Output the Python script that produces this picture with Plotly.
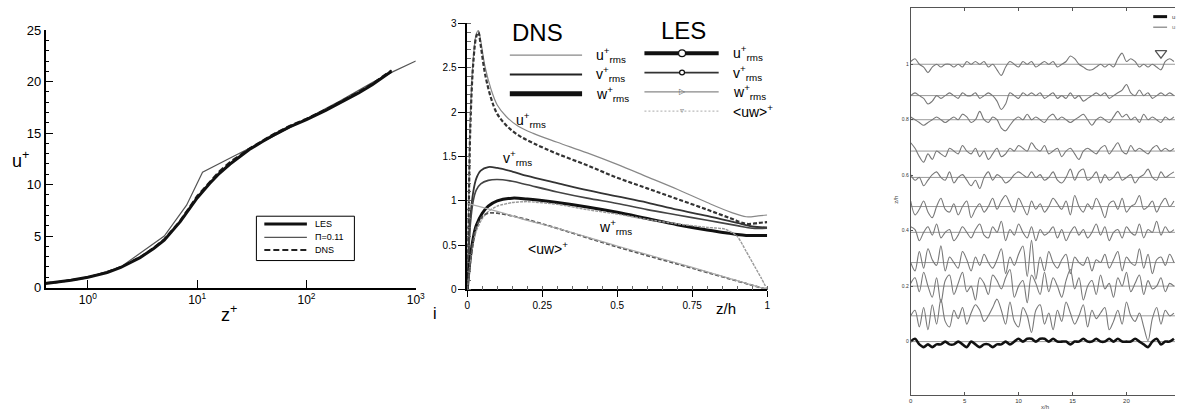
import plotly.graph_objects as go

W, H = 1184, 418

# ---------------- Panel 1 data: mean velocity profile ----------------
les_zp = [0.41, 0.5, 0.7, 1, 1.5, 2, 3, 4, 5, 7, 10, 13, 16, 20, 25, 30, 40, 50, 70, 100, 150, 200, 300, 400, 500, 600]
les_up = [0.4, 0.5, 0.7, 1.0, 1.45, 1.95, 2.9, 3.8, 4.6, 6.4, 8.7, 10.1, 11.1, 12.0, 12.8, 13.4, 14.2, 14.8, 15.6, 16.3, 17.2, 17.9, 18.9, 19.7, 20.4, 21.0]
dns_zp = [0.41, 0.5, 0.7, 1, 1.5, 2, 3, 4, 5, 7, 10, 13, 16, 20, 25, 30, 40, 50, 70, 100, 150, 200, 300, 400, 500, 600]
dns_up = [0.45, 0.5, 0.7, 1.0, 1.5, 2.0, 2.95, 3.85, 4.7, 6.5, 8.9, 10.3, 11.3, 12.2, 12.9, 13.5, 14.3, 14.9, 15.7, 16.4, 17.3, 18.0, 19.0, 19.8, 20.5, 21.1]
pi_zp = [0.41, 1, 2, 5, 8, 11.2, 22, 30, 50, 100, 200, 400, 600, 1000]
pi_up = [0.41, 1.0, 2.0, 5.0, 8.0, 11.2, 12.8, 13.5, 14.7, 16.4, 18.1, 19.9, 20.9, 22.0]

# ---------------- Panel 2 data: rms profiles ----------------
u_z = [0, 0.005, 0.01, 0.02, 0.03, 0.037, 0.045, 0.06, 0.08, 0.1, 0.13, 0.17, 0.22, 0.3, 0.4, 0.5, 0.6, 0.7, 0.8, 0.88, 0.93, 0.97, 1.0]
dns_u = [0, 1.0, 1.9, 2.6, 2.88, 2.92, 2.8, 2.5, 2.25, 2.08, 1.95, 1.84, 1.76, 1.66, 1.54, 1.41, 1.27, 1.13, 0.98, 0.87, 0.82, 0.83, 0.84]
les_u = [0, 0.9, 1.8, 2.55, 2.85, 2.9, 2.75, 2.42, 2.15, 1.98, 1.85, 1.74, 1.65, 1.53, 1.40, 1.26, 1.14, 1.02, 0.90, 0.80, 0.74, 0.75, 0.76]
v_z = [0, 0.005, 0.01, 0.02, 0.03, 0.045, 0.07, 0.1, 0.15, 0.2, 0.3, 0.4, 0.5, 0.6, 0.7, 0.8, 0.9, 0.95, 1.0]
dns_v = [0, 0.45, 0.8, 1.1, 1.25, 1.34, 1.38, 1.37, 1.33, 1.28, 1.20, 1.12, 1.05, 0.98, 0.90, 0.83, 0.75, 0.71, 0.70]
les_v = [0, 0.4, 0.72, 1.0, 1.12, 1.19, 1.23, 1.24, 1.22, 1.18, 1.10, 1.03, 0.97, 0.90, 0.84, 0.78, 0.72, 0.69, 0.69]
w_z = [0, 0.01, 0.02, 0.03, 0.05, 0.07, 0.1, 0.15, 0.2, 0.3, 0.4, 0.5, 0.6, 0.7, 0.8, 0.86, 0.9, 0.93, 0.96, 0.98, 1.0]
dns_w = [0, 0.35, 0.58, 0.72, 0.86, 0.94, 1.0, 1.03, 1.02, 0.98, 0.93, 0.87, 0.80, 0.73, 0.67, 0.64, 0.62, 0.61, 0.61, 0.61, 0.61]
les_w = [0, 0.3, 0.52, 0.66, 0.80, 0.88, 0.94, 0.98, 0.99, 0.96, 0.90, 0.85, 0.79, 0.74, 0.70, 0.68, 0.60, 0.43, 0.25, 0.13, 0.0]
dns_uw_z = [0, 0.01, 0.02, 0.03, 0.05, 0.07, 0.1, 0.15, 0.25, 0.5, 0.75, 1.0]
dns_uw = [0, 0.3, 0.55, 0.7, 0.82, 0.86, 0.86, 0.83, 0.74, 0.48, 0.24, 0]
les_uw_z = [0, 0.1, 0.2, 0.3, 0.5, 0.75, 1.0]
les_uw = [0.97, 0.88, 0.78, 0.69, 0.49, 0.25, 0.0]

# ---------------- Panel 3 data: velocity traces at probe heights ----------------
levels = [1.0, 0.887, 0.80, 0.687, 0.592, 0.487, 0.394, 0.285, 0.20, 0.093, 0.0]
dx = 0.4
s100 = [1,2,0,-1,-3,-1,0,-1,0,0,-1,0,-1,1,0,1,0,1,-1,0,-2,-4,-1,1,0,-1,1,0,1,-1,0,1,0,1,-1,0,1,3,2,0,-1,-2,-2,-1,0,-1,0,-1,2,4,1,2,1,-1,0,-1,0,-1,-2,1,2,1]
s089 = [0,1,0,-1,-3,-2,0,-1,0,1,0,-1,1,0,0,1,-1,0,1,0,-2,-5,-3,1,0,-1,1,0,1,0,1,-1,0,1,-1,0,-1,1,-1,0,-2,-1,0,1,0,1,-1,0,1,2,4,1,0,2,0,1,-1,0,1,0,1,0]
s080 = [1,0,-1,-2,-1,0,1,0,-1,0,1,0,2,1,-1,0,3,0,-1,1,0,-3,-4,-2,0,1,0,2,0,1,0,-1,1,2,0,1,0,-1,0,1,2,0,-2,0,1,0,-1,1,3,1,2,0,1,-1,2,0,1,0,-1,1,0,1]
s069 = [3,1,-2,-4,-1,-3,0,-1,-2,1,0,-1,2,0,-1,1,-2,0,-3,-1,1,-2,-1,1,0,2,1,0,3,1,0,2,-1,0,1,-2,0,1,-1,-3,0,1,0,-1,1,2,-1,1,3,0,-1,2,0,1,0,-1,1,2,0,1,0,1]
s059 = [1,-1,0,-3,-1,1,2,0,-1,2,-2,0,1,-1,-3,-1,-4,0,2,-1,1,0,-2,-1,1,2,1,0,2,0,1,-1,0,2,-1,-2,0,3,-1,2,3,-1,0,2,-2,1,-1,0,2,-1,0,1,-2,0,1,3,0,-1,2,0,1,2]
s049 = [2,-3,-1,2,-2,-4,0,3,-1,-2,1,-3,0,2,-4,-1,1,-2,0,3,-1,2,4,1,-2,3,0,-3,2,-1,1,-2,0,3,1,-1,2,-3,4,0,-2,1,-1,3,0,-4,1,2,-1,3,-2,0,1,4,-1,0,2,-2,1,3,0,2]
s039 = [2,1,-3,0,2,-1,3,-2,0,1,-3,-1,2,0,-2,1,3,-1,-2,2,0,4,-3,1,-1,3,0,-2,2,-3,1,-1,0,2,-2,1,-3,0,2,-1,1,-2,0,3,-1,2,-3,0,1,-2,2,0,-1,3,-2,1,0,4,-1,2,0,1]
s029 = [0,-3,4,-2,5,1,-1,6,-3,2,0,-2,4,1,-3,2,-1,3,0,-2,1,5,-4,2,-1,3,6,-5,8,-6,2,-3,4,0,-2,1,3,-4,2,0,-1,2,-3,1,0,3,-2,1,4,-3,2,0,-1,5,-2,3,-4,1,2,-1,3,0]
s020 = [1,3,-2,5,0,-4,3,-6,2,4,-3,1,5,-2,0,-5,3,1,-3,4,2,-1,3,6,-4,0,2,-6,4,1,-3,5,-2,3,0,-4,2,6,-1,3,-5,0,2,-3,4,-1,1,-4,3,0,5,-2,1,4,-3,2,-1,0,3,-2,1,0]
s009 = [0,2,-4,3,-5,4,-3,6,-2,-4,2,-1,3,-3,1,4,2,-2,0,3,6,2,-3,5,-2,-4,3,0,-6,2,4,-3,1,-5,2,-2,5,1,-3,0,4,-4,2,-1,1,3,-5,-2,2,-3,5,0,-2,1,-4,-9,-1,3,-3,2,0,1]
s000 = [0,1,-1,-2,-1,-2,-1,-1,0,-1,-1,0,-1,-2,0,-1,-2,-1,-1,-2,-1,-1,0,-1,0,1,0,1,1,0,1,1,0,1,0,0,0,-1,0,0,1,0,0,1,0,0,1,0,1,0,0,0,1,0,-1,-2,0,1,-1,0,0,1]
series = [s100, s089, s080, s069, s059, s049, s039, s029, s020, s009, s000]
x_end = 24.5
surf_x, surf_y = [23.2], [1.04]

fig = go.Figure()
FONT = "Liberation Sans, Arial, sans-serif"

# Panel 1 traces
fig.add_trace(go.Scatter(x=pi_zp, y=pi_up, mode="lines", line=dict(color="#555", width=1.2), xaxis="x", yaxis="y"))
fig.add_trace(go.Scatter(x=dns_zp, y=dns_up, mode="lines", line=dict(color="#222", width=2, dash="6px,3px"), xaxis="x", yaxis="y"))
fig.add_trace(go.Scatter(x=les_zp, y=les_up, mode="lines", line=dict(color="#111", width=3), xaxis="x", yaxis="y"))

# Panel 2 traces
fig.add_trace(go.Scatter(x=u_z, y=dns_u, mode="lines", line=dict(color="#888", width=1.2, shape="spline"), xaxis="x2", yaxis="y2"))
fig.add_trace(go.Scatter(x=u_z, y=les_u, mode="lines", line=dict(color="#333", width=2.2, dash="4px,2px", shape="spline"), xaxis="x2", yaxis="y2"))
fig.add_trace(go.Scatter(x=v_z, y=dns_v, mode="lines", line=dict(color="#333", width=1.8, shape="spline"), xaxis="x2", yaxis="y2"))
fig.add_trace(go.Scatter(x=v_z, y=les_v, mode="lines", line=dict(color="#444", width=1.6, shape="spline"), xaxis="x2", yaxis="y2"))
fig.add_trace(go.Scatter(x=w_z, y=dns_w, mode="lines", line=dict(color="#111", width=3, shape="spline"), xaxis="x2", yaxis="y2"))
fig.add_trace(go.Scatter(x=w_z, y=les_w, mode="lines", line=dict(color="#999", width=1.4, dash="3px,1px", shape="spline", smoothing=0.6), xaxis="x2", yaxis="y2"))
fig.add_trace(go.Scatter(x=dns_uw_z, y=dns_uw, mode="lines", line=dict(color="#555", width=1.8, dash="4px,2px", shape="spline"), xaxis="x2", yaxis="y2"))
fig.add_trace(go.Scatter(x=les_uw_z, y=les_uw, mode="lines", line=dict(color="#aaa", width=1.2, shape="spline"), xaxis="x2", yaxis="y2"))

# Panel 3 traces
for lev in levels:
    fig.add_trace(go.Scatter(x=[0, x_end], y=[lev, lev], mode="lines", line=dict(color="#999", width=1), xaxis="x3", yaxis="y3"))
for lev, s in zip(levels, series):
    xs = [i * dx for i in range(len(s))]
    ys = [lev + v / 100.0 for v in s]
    last = lev == 0.0
    fig.add_trace(go.Scatter(x=xs, y=ys, mode="lines",
                             line=dict(color="#111" if last else "#777", width=2.6 if last else 1.1,
                                       shape="spline", smoothing=0.9),
                             xaxis="x3", yaxis="y3"))
fig.add_trace(go.Scatter(x=surf_x, y=surf_y, mode="markers",
                         marker=dict(symbol="triangle-down-open", size=10, color="#555", line=dict(width=1.3)),
                         xaxis="x3", yaxis="y3"))

def P(x, y):
    return x / W, 1 - y / H

shapes, annos = [], []

def hline(x0, x1, y, color="black", width=1, dash=None):
    a, b = P(x0, y)
    c, _ = P(x1, y)
    ln = dict(color=color, width=width)
    if dash:
        ln["dash"] = dash
    shapes.append(dict(type="line", xref="paper", yref="paper", x0=a, x1=c, y0=b, y1=b, line=ln))

def text(x, y, t, size, xanchor="center", color="black", textangle=0):
    a, b = P(x, y)
    annos.append(dict(x=a, y=b, xref="paper", yref="paper", text=t, showarrow=False,
                      xanchor=xanchor, yanchor="middle", textangle=textangle,
                      font=dict(size=size, color=color, family=FONT)))

# Panel 1 legend
a0, b0 = P(256, 217)
a1, b1 = P(355, 263)
shapes.append(dict(type="rect", xref="paper", yref="paper", x0=a0, x1=a1, y0=b1, y1=b0, line=dict(color="black", width=1)))
hline(264, 307, 225, "#111", 3)
hline(264, 307, 239, "#555", 1.2)
hline(264, 307, 252, "#222", 2, "6px,3px")
text(313, 225, "LES", 9, "left")
text(313, 239, "\u03a0=0.11", 9, "left")
text(313, 252, "DNS", 9, "left")
text(228, 318, "z<sup>+</sup>", 18)
text(18, 158, "u<sup>+</sup>", 18)
text(436, 318, "i", 16)

# Panel 2 legend
text(540, 26, "DNS", 24)
text(687, 24, "LES", 24)
hline(512, 585, 50, "#888", 1.2)
hline(512, 585, 70, "#222", 2.2)
hline(512, 585, 90, "#111", 5)
hline(648, 723, 48, "#111", 4)
hline(648, 723, 68, "#333", 1.8)
hline(648, 723, 88, "#888", 1.3)
hline(648, 723, 108, "#bbb", 1.2, "2px,2px")
for (cx, cy, r) in [(686, 48, 3.5), (686, 68, 2.5)]:
    p0 = P(cx - r, cy + r)
    p1 = P(cx + r, cy - r)
    shapes.append(dict(type="circle", xref="paper", yref="paper", x0=p0[0], y0=p0[1], x1=p1[0], y1=p1[1],
                       fillcolor="white", line=dict(color="#111", width=1.2)))
text(686, 88, "\u25b7", 8, color="#666")
text(686, 107, "\u25bf", 8, color="#888")
lab = lambda c: c + "<sup>+</sup><sub>rms</sub>"
for y, t in [(50, lab("u")), (70, lab("v")), (90, lab("w"))]:
    text(597, y, t, 14, "left")
for y, t in [(48, lab("u")), (68, lab("v")), (88, lab("w"))]:
    text(735, y, t, 14, "left")
text(735, 108, "&lt;uw&gt;<sup>+</sup>", 14, "left")
text(516, 117, lab("u"), 14, "left")
text(503, 157, lab("v"), 14, "left")
text(600, 228, lab("w"), 14, "left")
text(528, 250, "&lt;uw&gt;<sup>+</sup>", 14, "left")
text(730, 313, "z/h", 15)

# Panel 3 legend (cut at edge) and titles
hline(1162, 1176, 10, "#111", 3)
hline(1162, 1176, 21, "#999", 1.5)
text(1179, 10, "u", 6, "left", "#444")
text(1179, 21, "u", 6, "left", "#777")
text(902, 200, "z/h", 6, color="#444", textangle=-90)
text(1053, 415, "x/h", 6, color="#444")

log_minor = [0.5, 0.6, 0.7, 0.8, 0.9, 2, 3, 4, 5, 6, 7, 8, 9, 20, 30, 40, 50, 60, 70, 80, 90,
             200, 300, 400, 500, 600, 700, 800, 900]

fig.update_layout(
    width=W, height=H, margin=dict(l=0, r=0, t=0, b=0),
    paper_bgcolor="white", plot_bgcolor="white", showlegend=False,
    font=dict(family=FONT, color="black"),
    shapes=shapes, annotations=annos,
    xaxis=dict(type="log", domain=[43 / W, 417 / W], range=[-0.387, 3.0], anchor="y",
               showline=True, linecolor="black", linewidth=1.5, showgrid=False, zeroline=False,
               ticks="inside", ticklen=8, tickcolor="black",
               tickvals=[1, 10, 100, 1000],
               ticktext=["10<sup>0</sup>", "10<sup>1</sup>", "10<sup>2</sup>", "10<sup>3</sup>"],
               tickfont=dict(size=12)),
    xaxis4=dict(type="log", domain=[43 / W, 417 / W], range=[-0.387, 3.0], anchor="y", overlaying="x",
                side="bottom", showline=False, showgrid=False, zeroline=False,
                ticks="inside", ticklen=4, tickcolor="black", tickvals=log_minor,
                ticktext=[""] * len(log_minor), showticklabels=False),
    yaxis=dict(domain=[1 - 291 / H, 1 - 24 / H], range=[0, 25], anchor="x",
               showline=True, linecolor="black", linewidth=1.5, showgrid=False, zeroline=False,
               ticks="inside", ticklen=8, tickcolor="black", dtick=5, tickfont=dict(size=13),
               minor=dict(ticks="inside", ticklen=4, tickcolor="black", dtick=1)),
    xaxis2=dict(domain=[469 / W, 772 / W], range=[0, 1], anchor="y2",
                showline=True, linecolor="black", linewidth=1.5, showgrid=False, zeroline=False,
                ticks="outside", ticklen=6, tickcolor="black",
                tickvals=[0, 0.25, 0.5, 0.75, 1], ticktext=["0", "0.25", "0.5", "0.75", "1"],
                tickfont=dict(size=10),
                minor=dict(ticks="inside", ticklen=4, tickcolor="#666", dtick=0.05)),
    yaxis2=dict(domain=[1 - 293 / H, 1 - 17 / H], range=[0, 3], anchor="x2",
                showline=True, linecolor="black", linewidth=1.5, showgrid=False, zeroline=False,
                ticks="outside", ticklen=7, tickcolor="black", dtick=0.5, tickfont=dict(size=10),
                minor=dict(ticks="inside", ticklen=4, tickcolor="#666", dtick=0.1)),
    xaxis3=dict(domain=[917 / W, 1.0], range=[0, x_end], anchor="y3",
                showline=True, linecolor="#555", linewidth=1, mirror="ticks", showgrid=False, zeroline=False,
                ticks="inside", ticklen=3, tickcolor="#555", dtick=5, tickfont=dict(size=6, color="#333")),
    yaxis3=dict(domain=[1 - 402 / H, 1 - 1 / H], range=[-0.191, 1.203], anchor="x3",
                showline=True, linecolor="#555", linewidth=1, showgrid=False, zeroline=False,
                ticks="inside", ticklen=2, tickcolor="#555",
                tickvals=[0, 0.2, 0.4, 0.6, 0.8, 1], ticktext=["0", "0.2", "0.4", "0.6", "0.8", "1"],
                tickfont=dict(size=5, color="#333")),
)

fig.write_html("out.html")
